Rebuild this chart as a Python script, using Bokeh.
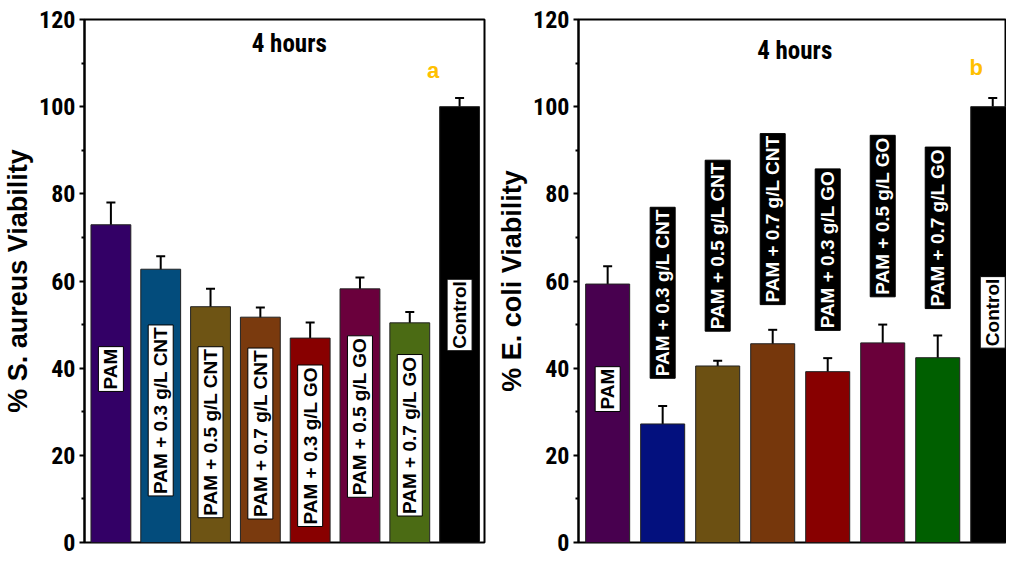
import math
from bokeh.plotting import figure
from bokeh.models import ColumnDataSource, Whisker, TeeHead, FixedTicker, Range1d
from bokeh.layouts import row
from bokeh.embed import file_html
from bokeh.resources import INLINE
from bokeh.core.properties import value

# ---------------- data ----------------
categories = ["PAM", "PAM + 0.3 g/L CNT", "PAM + 0.5 g/L CNT", "PAM + 0.7 g/L CNT",
              "PAM + 0.3 g/L GO", "PAM + 0.5 g/L GO", "PAM + 0.7 g/L GO", "Control"]
positions = [1, 2, 3, 4, 5, 6, 7, 8]

sa_values = [72.9, 62.7, 54.1, 51.7, 46.9, 58.2, 50.4, 100.0]
sa_errors = [5.1, 3.0, 4.1, 2.2, 3.6, 2.6, 2.5, 2.0]

ec_values = [59.3, 27.2, 40.5, 45.6, 39.2, 45.8, 42.4, 100.0]
ec_errors = [4.1, 4.1, 1.2, 3.2, 3.1, 4.2, 5.1, 2.0]

y_ticks = [0, 20, 40, 60, 80, 100, 120]
y_minor = [10, 30, 50, 70, 90, 110]

# ---------------- styles ----------------
sa_colors = ["#330066", "#034c7c", "#6e5414", "#7a3a0e", "#880000", "#6a003c", "#4b6b14", "#000000"]
ec_colors = ["#48004f", "#03107e", "#6c5012", "#76370c", "#880000", "#6a003a", "#005f00", "#000000"]
sa_label_y = [39.8, 30.3, 25.3, 25.0, 22.2, 28.9, 24.6, 52.2]
ec_label_y = [35.2, 57.3, 68.1, 74.2, 67.2, 74.9, 72.2, 52.8]
sa_label_bg = ["white"] * 8
sa_label_fg = ["black"] * 8
ec_label_bg = ["white"] + ["black"] * 6 + ["white"]
ec_label_fg = ["black"] + ["white"] * 6 + ["black"]

NARROW = "'Roboto Condensed', 'Liberation Sans Narrow', 'Liberation Sans', sans-serif"
SANS = "'Liberation Sans', Arial, sans-serif"


def make_panel(values, errors, colors, label_y, label_bg, label_fg, ylabel, letter,
               width, x_end, border_left, border_right, title_xy, letter_xy):
    p = figure(width=width, height=559, output_backend="svg", toolbar_location=None,
               x_range=Range1d(positions[0] - 0.53, x_end), y_range=Range1d(0, 120),
               min_border_left=border_left, min_border_right=border_right,
               min_border_top=19, min_border_bottom=17)
    p.grid.visible = False
    p.xaxis.visible = False
    p.outline_line_color = "black"
    p.outline_line_width = 2
    p.background_fill_color = "white"

    src = ColumnDataSource(dict(
        x=positions, top=values, color=colors,
        upper=[v + e for v, e in zip(values, errors)],
        lower=[v - e for v, e in zip(values, errors)],
        ly=label_y, text=categories, bg=label_bg, fg=label_fg,
    ))
    p.vbar(x="x", top="top", bottom=0, width=0.8, fill_color="color",
           line_color="#222222", line_width=1, source=src)

    w = Whisker(base="x", upper="upper", lower="lower", source=src,
                line_color="black", line_width=2,
                upper_head=TeeHead(size=9, line_width=2, line_color="black"),
                lower_head=TeeHead(size=9, line_width=2, line_color="black"))
    p.add_layout(w)

    p.text(x="x", y="ly", text="text", source=src, angle=math.pi / 2,
           text_align="center", text_baseline="middle",
           text_font=value(SANS), text_font_style="bold", text_font_size="19px",
           text_color="fg", background_fill_color="bg",
           border_line_color="black", border_line_width=1, padding=2)

    p.text(x=[title_xy[0]], y=[title_xy[1]], text=["4 hours"],
           text_align="center", text_baseline="middle",
           text_font=value(NARROW), text_font_style="bold", text_font_size="25px",
           text_color="black")
    p.text(x=[letter_xy[0]], y=[letter_xy[1]], text=[letter],
           text_align="center", text_baseline="middle",
           text_font=value(SANS), text_font_style="bold", text_font_size="22px",
           text_color="#ffc000")

    ax = p.yaxis[0]
    ax.ticker = FixedTicker(ticks=y_ticks, minor_ticks=y_minor)
    ax.axis_line_width = 2
    ax.major_tick_line_width = 2
    ax.minor_tick_line_width = 2
    ax.major_tick_out = 5
    ax.major_tick_in = 0
    ax.minor_tick_out = 3
    ax.minor_tick_in = 0
    ax.major_label_text_font = NARROW
    ax.major_label_text_font_style = "bold"
    ax.major_label_text_font_size = "24px"
    ax.major_label_text_color = "black"
    ax.major_label_standoff = 4
    ax.axis_label = ylabel
    ax.axis_label_text_font = SANS
    ax.axis_label_text_font_style = "bold"
    ax.axis_label_text_font_size = "27px"
    ax.axis_label_text_color = "black"
    ax.axis_label_standoff = 3
    return p


left = make_panel(sa_values, sa_errors, sa_colors, sa_label_y, sa_label_bg, sa_label_fg,
                  "% S. aureus Viability", "a", width=494, x_end=8.5,
                  border_left=76, border_right=10,
                  title_xy=(4.58, 114.5), letter_xy=(7.47, 108.2))
right = make_panel(ec_values, ec_errors, ec_colors, ec_label_y, ec_label_bg, ec_label_fg,
                   "% E. coli Viability", "b", width=512, x_end=8.25,
                   border_left=78, border_right=0,
                   title_xy=(4.4, 113.0), letter_xy=(7.7, 108.9))

layout = row(left, right)
open("out.html", "w").write(file_html(layout, INLINE))
